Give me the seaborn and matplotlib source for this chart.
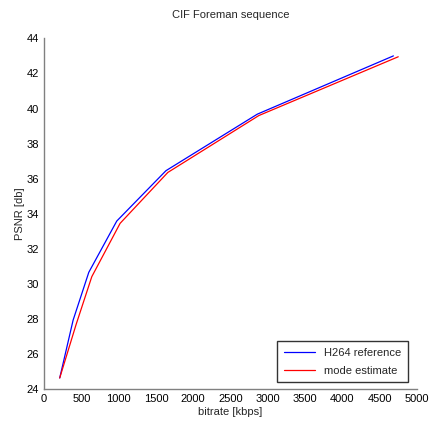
import matplotlib
matplotlib.use('Agg')
import matplotlib.pyplot as plt
import pandas as pd
import seaborn as sns

# rate-distortion points
h264_kbps = [210, 390, 600, 975, 1635, 2860, 4685]
h264_psnr = [24.65, 27.95, 30.67, 33.59, 36.46, 39.68, 43.0]
mode_kbps = [210, 430, 640, 1020, 1660, 2880, 4750]
mode_psnr = [24.65, 27.70, 30.42, 33.46, 36.36, 39.60, 42.95]

data = pd.concat([
    pd.DataFrame({'bitrate': h264_kbps, 'psnr': h264_psnr, 'series': 'H264 reference'}),
    pd.DataFrame({'bitrate': mode_kbps, 'psnr': mode_psnr, 'series': 'mode estimate'}),
])

sns.set_style('white')
plt.rcParams['font.family'] = ['Liberation Sans', 'DejaVu Sans']

fig = plt.figure(figsize=(4.32, 4.26), dpi=100)
ax = fig.add_axes([0.102, 0.086, 0.863, 0.824])
sns.lineplot(data=data, x='bitrate', y='psnr', hue='series', sort=False,
             palette={'H264 reference': '#0000ff', 'mode estimate': '#ff0000'},
             linewidth=0.9, ax=ax)

ax.set_xlim(0, 5000)
ax.set_ylim(24, 44)
ax.set_xticks(range(0, 5001, 500))
ax.set_yticks(range(24, 45, 2))
ax.tick_params(direction='in', length=3, labelsize=8, colors='black', width=0.8)
for side in ['top', 'right']:
    ax.spines[side].set_visible(False)
for side in ['left', 'bottom']:
    ax.spines[side].set_color('#808080')
    ax.spines[side].set_linewidth(1.0)

ax.set_xlabel('bitrate [kbps]', fontsize=8, labelpad=2)
ax.set_ylabel('PSNR [db]', fontsize=8, labelpad=1)
ax.set_title('CIF Foreman sequence', fontsize=8, pad=14.5)

leg = ax.legend(loc='lower right', fontsize=8, frameon=True, fancybox=False,
                borderpad=0.6, handlelength=2.8, labelspacing=0.7, borderaxespad=0,
                bbox_to_anchor=(0.976, 0.02))
leg.get_frame().set_edgecolor('black')
leg.get_frame().set_linewidth(1.0)

fig.savefig('out.png', dpi=100)
